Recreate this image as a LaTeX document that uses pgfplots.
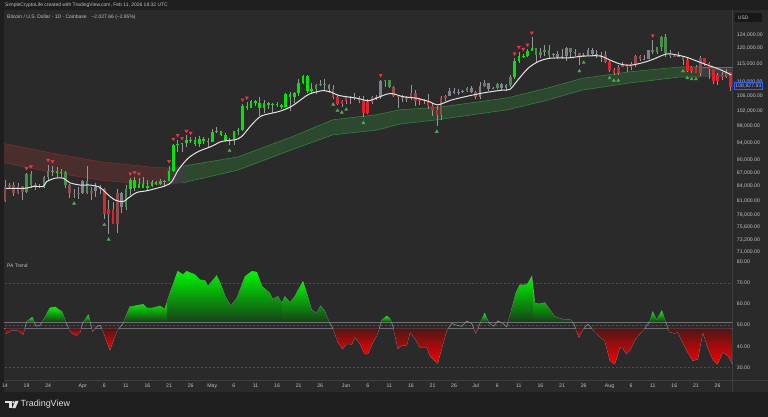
\documentclass[border=0pt]{standalone}
\usepackage{pgfplots}
\pgfplotsset{compat=1.18}
\usepackage{pgfplotstable}
\usepackage{fontspec}
\setmainfont{Liberation Sans}

\definecolor{bgpane}{RGB}{42,42,43}
\definecolor{bgdark}{RGB}{30,30,31}
\definecolor{txt}{RGB}{190,192,198}
\definecolor{gridc}{RGB}{62,62,64}
\definecolor{cG}{RGB}{0,230,0}
\definecolor{cg}{RGB}{74,142,76}
\definecolor{cR}{RGB}{226,32,42}
\definecolor{cr}{RGB}{146,74,74}
\definecolor{cn}{RGB}{128,128,142}
\definecolor{wick}{RGB}{150,150,152}
\definecolor{maline}{RGB}{228,228,228}
\definecolor{bandG}{RGB}{44,72,46}
\definecolor{bandGl}{RGB}{52,128,58}
\definecolor{bandR}{RGB}{74,46,46}
\definecolor{bandRl}{RGB}{130,42,44}
\definecolor{bandN}{RGB}{62,62,65}
\definecolor{triR}{RGB}{232,52,70}
\definecolor{triG}{RGB}{76,170,80}
\definecolor{oscG}{RGB}{0,245,0}
\definecolor{oscGd}{RGB}{22,64,24}
\definecolor{oscR}{RGB}{250,0,0}
\definecolor{oscRd}{RGB}{78,22,22}
\definecolor{oscline}{RGB}{140,140,140}
\definecolor{lvl}{RGB}{110,110,115}
\definecolor{dashc}{RGB}{78,78,82}
\definecolor{tvblue}{RGB}{41,98,255}
\definecolor{pricetxt}{RGB}{140,170,255}
\definecolor{usdbox}{RGB}{24,24,25}
\definecolor{logoc}{RGB}{222,222,224}

% Bitcoin daily candles, prices in thousands of USD (day 0 = Mar 14)
\pgfplotstableread{
i o h l c k
0 80.9 85.3 80.8 83.9 r
1 83.9 84.7 83.6 84.3 r
2 84.3 85.0 82.0 82.6 r
3 82.6 84.7 82.4 84.0 r
4 84.0 84.0 81.2 82.7 r
5 82.7 87.0 82.5 86.8 g
6 86.8 87.4 83.7 84.2 g
7 84.2 84.8 83.2 84.0 n
8 84.0 84.5 83.7 83.8 n
9 83.8 86.2 83.6 86.1 g
10 86.1 88.8 85.5 87.5 g
11 87.5 88.5 86.3 87.4 G
12 87.4 88.3 85.9 86.9 G
13 86.9 87.8 85.9 87.2 G
14 87.2 87.5 83.6 84.4 g
15 84.4 84.6 81.6 82.6 r
16 82.6 83.5 81.6 82.3 r
17 82.3 83.9 81.3 82.5 r
18 82.5 85.5 82.4 85.1 n
19 85.1 88.5 82.3 82.5 g
20 82.5 83.9 81.2 83.1 r
21 83.1 84.7 81.7 83.8 n
22 83.8 84.2 82.4 83.5 n
23 83.5 83.7 77.2 78.2 R
24 78.2 81.2 74.4 79.2 R
25 79.2 80.8 76.2 76.3 R
26 76.3 83.5 74.6 82.6 r
27 82.6 82.7 78.5 79.6 n
28 79.6 84.2 79.0 83.4 g
29 83.4 85.8 82.1 85.3 G
30 85.3 86.1 83.0 83.7 G
31 83.7 85.8 83.7 84.5 G
32 84.5 86.0 83.6 83.7 G
33 83.7 85.5 83.1 84.0 G
34 84.0 85.5 83.9 84.9 G
35 84.9 85.1 84.3 84.5 G
36 84.5 85.6 84.4 85.1 G
37 85.1 85.3 83.9 85.2 G
38 85.2 88.5 85.1 87.5 G
39 87.5 93.8 87.1 93.4 G
40 93.4 94.7 91.7 93.7 G
41 93.7 94.0 91.7 93.9 G
42 93.9 95.8 92.9 94.7 G
43 94.7 95.3 93.9 94.6 G
44 94.6 95.3 93.1 93.8 G
45 93.8 95.6 92.9 95.0 G
46 95.0 95.5 93.8 94.3 G
47 94.3 95.2 92.9 94.2 G
48 94.2 97.4 94.1 96.5 G
49 96.5 97.9 96.3 96.9 G
50 96.9 96.9 95.7 95.9 G
51 95.9 96.3 94.1 94.3 G
52 94.3 95.2 93.5 94.7 n
53 94.7 96.9 93.4 96.8 G
54 96.8 97.7 95.8 97.0 G
55 97.0 103.8 96.9 103.2 G
56 103.2 104.3 102.3 102.9 G
57 102.9 104.9 102.8 104.6 G
58 104.6 105.0 103.3 104.1 G
59 104.1 105.8 100.7 102.8 G
60 102.8 104.9 101.4 104.1 G
61 104.1 104.3 102.6 103.5 G
62 103.5 104.1 101.4 103.7 G
63 103.7 104.5 103.1 103.5 G
64 103.5 103.7 102.6 103.1 G
65 103.1 106.7 103.0 106.5 G
66 106.5 107.1 102.0 105.6 G
67 105.6 107.1 104.2 106.8 G
68 106.8 110.7 106.1 109.7 G
69 109.7 111.9 109.3 111.7 G
70 111.7 111.8 106.8 107.3 G
71 107.3 109.5 106.9 107.8 G
72 107.8 109.3 106.6 109.0 g
73 109.0 110.4 108.7 109.4 g
74 109.4 110.7 107.5 108.9 g
75 108.9 109.3 106.8 107.8 n
76 107.8 108.9 105.3 105.6 r
77 105.6 106.3 103.6 103.9 R
78 103.9 104.9 103.1 104.6 R
79 104.6 105.9 103.9 105.7 R
80 105.7 105.9 103.7 105.8 r
81 105.8 106.8 104.9 105.4 r
82 105.4 106.0 104.2 104.7 r
83 104.7 105.9 100.4 101.5 R
84 101.5 105.3 101.1 104.3 R
85 104.3 105.9 103.9 105.6 r
86 105.6 106.4 104.9 105.7 n
87 105.7 110.5 105.1 110.2 n
88 110.2 110.4 108.4 110.3 g
89 110.3 110.4 108.1 108.6 g
90 108.6 108.7 105.7 105.9 r
91 105.9 106.2 102.7 106.0 r
92 106.0 106.2 104.3 105.4 r
93 105.4 106.0 104.5 105.5 r
94 105.5 108.9 105.0 106.8 r
95 106.8 107.7 103.4 104.6 r
96 104.6 105.5 103.5 104.9 R
97 104.9 105.2 103.9 104.6 R
98 104.6 106.5 102.4 103.3 R
99 103.3 104.0 100.8 102.2 R
100 102.2 103.2 98.2 100.9 R
101 100.9 106.0 99.6 105.5 r
102 105.5 106.3 104.6 106.0 r
103 106.0 108.1 105.9 107.3 n
104 107.3 108.3 106.6 106.9 n
105 106.9 107.8 106.4 107.1 n
106 107.1 107.6 106.8 107.3 n
107 107.3 108.5 107.2 108.3 g
108 108.3 108.8 106.8 107.1 n
109 107.1 107.5 105.3 105.6 r
110 105.6 109.8 105.2 108.8 n
111 108.8 110.5 108.6 109.6 g
112 109.6 109.7 107.3 108.0 n
113 108.0 108.4 107.8 108.2 n
114 108.2 109.7 107.8 109.2 g
115 109.2 109.7 107.5 108.2 n
116 108.2 109.2 107.5 108.9 n
117 108.9 111.9 108.4 111.3 g
118 111.3 116.8 110.6 115.9 G
119 115.9 118.8 115.3 117.5 G
120 117.5 118.2 116.9 117.4 G
121 117.4 119.5 117.3 119.1 G
122 119.1 123.2 118.9 119.8 G
123 119.8 119.9 115.8 117.7 g
124 117.7 120.0 116.9 118.7 g
125 118.7 120.8 117.4 119.3 g
126 119.3 120.9 116.8 117.9 g
127 117.9 118.5 117.3 118.0 n
128 118.0 118.9 116.5 117.3 n
129 117.3 119.7 116.5 117.4 n
130 117.4 120.2 116.1 119.9 n
131 119.9 120.0 117.3 118.7 g
132 118.7 119.5 117.4 118.3 n
133 118.3 118.4 114.7 117.6 r
134 117.6 118.4 117.2 117.9 n
135 117.9 119.8 117.8 119.4 n
136 119.4 119.8 117.4 118.0 n
137 118.0 119.3 117.0 117.9 n
138 117.9 118.8 115.8 117.8 n
139 117.8 118.9 115.5 115.8 r
140 115.8 116.1 112.7 113.3 R
141 113.3 114.0 112.0 112.5 R
142 112.5 114.7 112.0 114.2 R
143 114.2 115.7 114.1 115.0 r
144 115.0 115.1 112.7 114.1 r
145 114.1 115.7 113.4 115.0 r
146 115.0 117.7 114.3 117.5 r
147 117.5 117.9 115.9 116.7 r
148 116.7 117.7 116.3 116.5 n
149 116.5 119.3 116.5 119.3 n
150 119.3 122.3 118.1 118.7 g
151 118.7 120.3 118.2 120.2 g
152 120.2 123.7 118.9 123.3 g
153 123.3 124.4 117.2 118.4 g
154 118.4 119.2 116.8 117.4 r
155 117.4 117.9 117.1 117.5 r
156 117.5 118.6 117.2 117.6 n
157 117.6 117.6 114.7 116.3 r
158 116.3 117.0 112.7 112.9 R
159 112.9 114.6 112.4 114.3 R
160 114.3 114.8 112.4 112.5 R
161 112.5 117.4 111.7 116.9 r
162 116.9 117.0 114.6 115.4 R
163 115.4 115.7 110.8 113.5 R
164 113.5 113.6 109.3 110.1 R
165 110.1 112.4 109.1 111.8 R
166 111.8 112.6 110.3 111.3 R
167 111.3 113.5 110.9 112.6 r
168 112.6 112.6 107.4 108.4 R
}\candles

\pgfplotsset{
  gfill/.style={draw=none, top color=oscG, bottom color=oscGd, forget plot},
  rfill/.style={draw=none, top color=oscRd, bottom color=oscR, forget plot},
}

\begin{document}
\begin{tikzpicture}[x=1bp,y=1bp]
\fill[bgdark] (0,0) rectangle (768,417);
\fill[bgpane] (4,25) rectangle (768,407);
\draw[gridc, line width=0.6bp] (4,37) -- (768,37);
\draw[gridc, line width=0.6bp] (733,25) -- (733,407);

% ---------------- price pane ----------------
\begin{axis}[
  at={(4bp,159bp)}, anchor=south west, scale only axis,
  width=729bp, height=247bp,
  xmin=-0.23, xmax=168.52,
  ymode=log, ymin=69.9, ymax=131.9,
  axis line style={draw=none}, major tick length=0pt,
  xtick=\empty,
  ytick={71,73.2,75.6,78,81,84,87,90,94,98,102,106,110,115,120,124},
  yticklabels={{71,000.00},{73,200.00},{75,600.00},{78,000.00},{81,000.00},{84,000.00},{87,000.00},{90,000.00},{94,000.00},{98,000.00},{102,000.00},{106,000.00},{110,000.00},{115,000.00},{120,000.00},{124,000.00}},
  yticklabel pos=right,
  yticklabel style={anchor=west, inner sep=0pt, xshift=4bp, font=\fontsize{5.2}{6}\selectfont, text=txt},
]
% red cloud
\addplot[fill=bandR, draw=none, forget plot] coordinates {(-0.3,93.8) (10.4,91.6) (22,89.5) (33.6,88.3) (37.5,88.1) (37.5,84.3) (28.9,84.8) (22,85.4) (10.4,87.2) (-0.3,89.3)};
\addplot[bandRl, line width=0.6bp, forget plot] coordinates {(-0.3,93.8) (10.4,91.6) (22,89.5) (33.6,88.3) (37.5,88.1)};
\addplot[bandRl, line width=0.6bp, forget plot] coordinates {(-0.3,89.3) (10.4,87.2) (22,85.4) (28.9,84.8) (37.5,84.3)};
% neutral transition
\addplot[fill=bandN, draw=none, forget plot] coordinates {(37.5,88.1) (41.2,88.5) (41.2,84.8) (37.5,84.3)};
% green cloud
\addplot[fill=bandG, draw=none, forget plot] coordinates {(41.2,88.5) (53.9,90.6) (66.4,95.4) (75.9,99.7) (86.1,101.0) (91.4,102.3) (100,102.9) (116.4,105.5) (125.7,108.2) (133.6,110.9) (144.7,112.8) (156.3,114.2) (160.9,114.2) (160.9,111.3) (156.3,111.3) (144.7,109.6) (133.6,107.6) (125.7,104.9) (116.4,102.3) (100,99.7) (91.4,98.6) (86.1,97.1) (75.9,95.9) (66.4,92.3) (53.9,87.6) (41.2,84.8)};
\addplot[bandGl, line width=0.6bp, forget plot] coordinates {(41.2,88.5) (53.9,90.6) (66.4,95.4) (75.9,99.7) (86.1,101.0) (91.4,102.3) (100,102.9) (116.4,105.5) (125.7,108.2) (133.6,110.9) (144.7,112.8) (156.3,114.2) (160.9,114.2)};
\addplot[bandGl, line width=0.6bp, forget plot] coordinates {(41.2,84.8) (53.9,87.6) (66.4,92.3) (75.9,95.9) (86.1,97.1) (91.4,98.6) (100,99.7) (116.4,102.3) (125.7,104.9) (133.6,107.6) (144.7,109.6) (156.3,111.3) (160.9,111.3)};
\addplot[fill=bandN, draw=none, forget plot] coordinates {(160.9,114.2) (168.6,114.2) (168.6,111.3) (160.9,111.3)};
\addplot[lvl, line width=0.5bp, forget plot] coordinates {(160.9,114.2) (168.6,114.2)};

% candles
\pgfplotsforeachungrouped \rr in {0,...,168}{%
  \pgfplotstablegetelem{\rr}{i}\of\candles \let\vi\pgfplotsretval
  \pgfplotstablegetelem{\rr}{o}\of\candles \let\vo\pgfplotsretval
  \pgfplotstablegetelem{\rr}{h}\of\candles \let\vh\pgfplotsretval
  \pgfplotstablegetelem{\rr}{l}\of\candles \let\vl\pgfplotsretval
  \pgfplotstablegetelem{\rr}{c}\of\candles \let\vc\pgfplotsretval
  \pgfplotstablegetelem{\rr}{k}\of\candles \let\vk\pgfplotsretval
  \edef\tmp{%
    \noexpand\addplot[wick, line width=0.6bp, forget plot] coordinates {(\vi,\vl) (\vi,\vh)};
    \noexpand\addplot[c\vk, line width=2.6bp, forget plot] coordinates {(\vi,\vo) (\vi,\vc)};
  }\tmp
}

% moving average
\addplot[maline, line width=1bp, smooth, tension=0.5, forget plot] coordinates {(0.2,83.6) (4.6,83.6) (6.6,84.0) (8.9,84.0) (9.6,85.0) (11.6,85.8) (13.5,85.8) (15,84.8) (17.4,84.3) (19.7,84.3) (22,83.8) (23.5,82.5) (25.5,81.1) (27.4,80.8) (28.5,81.5) (30.5,82.7) (33,83.1) (37,84.1) (38.6,85.0) (40.1,87.6) (42.4,90.3) (44.8,91.9) (47.8,93.1) (50.2,94.3) (53.2,94.7) (54.8,95.5) (57.1,98.4) (59.4,100.7) (63.3,101.8) (66.2,103.1) (69,105.4) (70.6,106.6) (73.7,107.5) (75.2,107.2) (77.5,106.1) (81.4,105.4) (84.1,104.7) (86,105.4) (88.4,106.5) (89.9,106.6) (92.2,105.8) (95.3,105.4) (98.4,104.4) (100.2,103.6) (103.4,104.9) (107.3,106.0) (111.1,106.9) (115,107.6) (116.9,107.8) (118.8,110.5) (121.1,113.8) (123.5,115.8) (126.2,116.8) (130.4,116.9) (133.6,117.4) (137.7,117.5) (140,116.3) (142.4,115.1) (144.7,114.7) (147.8,115.5) (150.1,116.5) (153.2,118.1) (155.5,117.8) (157.8,117.1) (160.1,116.0) (162.4,114.9) (165.5,113.5) (168.2,111.9)};

% signal triangles
\addplot[only marks, mark=triangle*, mark size=1.8bp, mark options={rotate=180, fill=triR, draw=triR}, forget plot] coordinates {(5,88.0) (6,88.4) (10,89.9) (11,89.6) (29,86.8) (30,87.1) (31,86.8) (38,89.6) (39,94.9) (40,95.8) (41,95.1) (42,96.9) (43,96.4) (55,105.0) (56,105.5) (87,111.8) (118,118.2) (119,120.2) (120,119.6) (121,120.9) (122,124.7) (150,123.8)};
\addplot[only marks, mark=triangle*, mark size=1.8bp, mark options={fill=triG, draw=triG}, forget plot] coordinates {(16,80.4) (23,76.1) (24,73.3) (52,92.1) (76,103.7) (77,102.1) (78,101.6) (79,102.4) (83,98.9) (100,96.7) (133,113.0) (134,115.5) (140,111.0) (141,110.3) (142,110.3) (157,113.0) (158,111.0) (159,110.7) (160,110.7)};
\end{axis}

% ---------------- oscillator pane ----------------
\begin{axis}[
  at={(4bp,37bp)}, anchor=south west, scale only axis,
  width=729bp, height=121bp,
  xmin=-0.23, xmax=168.52, ymin=24.2, ymax=81.27,
  axis line style={draw=none}, major tick length=0pt,
  xtick={0,5,10,18,23,28,33,38,43,48,53,58,63,68,73,79,84,89,94,99,104,109,114,119,124,129,134,140,145,150,155,160,165},
  xticklabels={14,19,24,Apr,6,11,16,21,26,May,6,11,16,21,26,Jun,6,11,16,21,26,Jul,6,11,16,21,26,Aug,6,11,16,21,26},
  xticklabel style={anchor=base, inner sep=0pt, yshift=-7.3bp, font=\fontsize{5.2}{6}\selectfont, text=txt},
  ytick={30,40,50,60,70,80},
  yticklabels={30.00,40.00,50.00,60.00,70.00,80.00},
  yticklabel pos=right,
  yticklabel style={anchor=west, inner sep=0pt, xshift=4bp, font=\fontsize{5.2}{6}\selectfont, text=txt},
]
\addplot[dashc, dash pattern=on 2bp off 2bp, line width=0.5bp, forget plot] coordinates {(-1,70) (170,70)};
\addplot[dashc, dash pattern=on 2bp off 2bp, line width=0.5bp, forget plot] coordinates {(-1,30) (170,30)};
\addplot[dashc, dash pattern=on 2bp off 2bp, line width=0.5bp, forget plot] coordinates {(-1,50) (170,50)};
\addplot[lvl, line width=0.6bp, forget plot] coordinates {(-1,51.5) (170,51.5)};
\addplot[lvl, line width=0.6bp, forget plot] coordinates {(-1,48.5) (170,48.5)};

\addplot[oscline, line width=0.6bp, forget plot] coordinates {(0.2,46.0) (1.5,47.6) (3,47.6) (4.2,45.7) (5,51.6) (6.3,53.7) (7.2,49.5) (8.1,50) (9.3,53.8) (10.4,58.1) (11.6,58.6) (13.2,56.3) (13.9,52.4) (14.7,48.6) (15.5,46.2) (16.6,45.2) (17.4,46.8) (18,51) (19.3,54.8) (20.3,47.1) (21.2,49.2) (22,50) (22.8,46.8) (24.3,38.4) (25.8,46.8) (27.4,51) (28.9,58.6) (30.4,59.2) (32,59.8) (32.8,58.1) (34,58) (35.9,59) (37,57.6) (38.2,65.1) (40,75.4) (41.2,73.8) (42.1,75.4) (44,73.8) (45.1,71.4) (46.3,71) (47,68.3) (49,73.3) (49.8,70) (51,63.5) (52.3,59) (53.7,62.7) (55.6,73) (57.2,75.4) (58.3,75) (59.5,68.3) (61.3,65.1) (62,62.2) (63.2,63.5) (64.1,60.3) (64.8,63.5) (66,60.6) (67.1,63.5) (69,70.6) (70.1,63.5) (71,57.1) (72.2,55.6) (73.1,59) (74,56.8) (75,51.6) (76,48.4) (77.1,42) (78.2,38.9) (79.1,41.3) (80.3,41) (81,44.4) (82.2,41.3) (83.3,36.5) (84,36.5) (85.2,42) (86.1,45.2) (87.3,52.4) (88.4,54.3) (89.1,53.2) (89.9,49.2) (91,38.9) (91.9,40.5) (93,40.5) (93.8,46.8) (94.9,43.7) (96.1,39.7) (97.7,39.7) (98.4,35.7) (99.5,33.3) (100.2,32.1) (101.2,39.7) (102.3,47.6) (103.5,50.8) (104.6,50) (105.8,49.5) (106.9,51.9) (108.1,50.8) (109,46.3) (110,50.8) (111.1,55.6) (112,51.1) (113.2,49.5) (114.1,52) (115.3,50.8) (116.2,49.2) (117.1,55.6) (118.3,65.1) (119.2,69) (120.6,69) (121.1,69.8) (122,73) (122.7,60.3) (123.8,60) (125,60.6) (126.2,57.1) (127.3,54) (128.5,53.2) (129.6,52.4) (130.8,52.8) (131.7,50.8) (132.9,44.4) (133.8,47.9) (135,50.5) (136.6,46.8) (138.2,43.7) (138.9,42.9) (140.1,33.3) (141.2,31.7) (142.4,39.7) (143.1,39) (143.9,36.5) (144.7,38.1) (145.8,42.9) (147,46) (148.1,48.4) (149.3,51.6) (150,56.3) (150.9,52.4) (152.1,56.8) (152.8,52.4) (153.9,46.8) (155.1,46.2) (155.8,46.8) (156.9,42) (158.1,37.3) (159.3,33.3) (160.4,34) (161.6,46.8) (162.7,39.7) (163.9,34) (165,31.7) (166.2,37.3) (167.4,35.7) (168.5,31.7)};

% gradient fills above the upper level (green) and below the lower level (red)
\addplot[rfill] coordinates {(0.2,48.5) (0.2,46) (1.5,47.6) (3,47.6) (4.2,45.7) (4.58,48.5)};
\addplot[gfill] coordinates {(4.99,51.5) (5,51.6) (6.3,53.7) (6.77,51.5)};
\addplot[gfill] coordinates {(8.57,51.5) (9.3,53.8) (10.4,58.1) (11.6,58.6) (13.2,56.3) (13.9,52.4) (14.09,51.5)};
\addplot[rfill] coordinates {(14.73,48.5) (15.5,46.2) (16.6,45.2) (17.4,46.8) (17.64,48.5)};
\addplot[gfill] coordinates {(18.17,51.5) (19.3,54.8) (19.73,51.5)};
\addplot[rfill] coordinates {(20.12,48.5) (20.3,47.1) (20.9,48.5)};
\addplot[rfill] coordinates {(22.38,48.5) (22.8,46.8) (24.3,38.4) (25.8,46.8) (26.45,48.5)};
\addplot[gfill] coordinates {(27.5,51.5) (28.9,58.6) (30.4,59.2) (32,59.8) (32.8,58.1) (34,58) (35.9,59) (37,57.6) (37.5,60.7) (37.5,51.5)};
\addplot[gfill] coordinates {(37.5,51.5) (37.5,60.7) (38.2,65.1) (40,75.4) (41.2,73.8) (42.1,75.4) (44,73.8) (45.1,71.4) (46.3,71) (47,68.3) (49,73.3) (49.8,70) (51,63.5) (52.3,59) (52.3,51.5)};
\addplot[gfill] coordinates {(52.3,51.5) (52.3,59) (53.7,62.7) (55.6,73) (57.2,75.4) (58.3,75) (59.5,68.3) (61.3,65.1) (62,62.2) (63.2,63.5) (64.1,60.3) (64.1,51.5)};
\addplot[gfill] coordinates {(64.1,51.5) (64.1,60.3) (64.8,63.5) (66,60.6) (67.1,63.5) (69,70.6) (70.1,63.5) (71,57.1) (72.2,55.6) (73.1,59) (74,56.8) (75,51.6) (75.03,51.5)};
\addplot[rfill] coordinates {(75.97,48.5) (76,48.4) (77.1,42) (78.2,38.9) (79.1,41.3) (80.3,41) (81,44.4) (82.2,41.3) (83.3,36.5) (84,36.5) (85.2,42) (86.1,45.2) (86.65,48.5)};
\addplot[gfill] coordinates {(87.15,51.5) (87.3,52.4) (88.4,54.3) (89.1,53.2) (89.44,51.5)};
\addplot[rfill] coordinates {(89.97,48.5) (91,38.9) (91.9,40.5) (93,40.5) (93.8,46.8) (94.9,43.7) (96.1,39.7) (97.7,39.7) (98.4,35.7) (99.5,33.3) (100.2,32.1) (101.2,39.7) (102.3,47.6) (102.64,48.5)};
\addplot[gfill] coordinates {(106.72,51.5) (106.9,51.9) (107.34,51.5)};
\addplot[rfill] coordinates {(108.56,48.5) (109,46.3) (109.49,48.5)};
\addplot[gfill] coordinates {(110.16,51.5) (111.1,55.6) (111.92,51.5)};
\addplot[gfill] coordinates {(113.92,51.5) (114.1,52) (114.6,51.5)};
\addplot[gfill] coordinates {(116.52,51.5) (117.1,55.6) (118.3,65.1) (119.2,69) (120.6,69) (121.1,69.8) (122,73) (122.35,66.65) (122.35,51.5)};
\addplot[gfill] coordinates {(122.35,51.5) (122.35,66.65) (122.7,60.3) (123.8,60) (125,60.6) (126.2,57.1) (127.3,54) (128.5,53.2) (129.6,52.4) (130.8,52.8) (131.39,51.5)};
\addplot[rfill] coordinates {(132.13,48.5) (132.9,44.4) (133.8,47.9) (134.08,48.5)};
\addplot[rfill] coordinates {(135.86,48.5) (136.6,46.8) (138.2,43.7) (138.9,42.9) (140.1,33.3) (141.2,31.7) (142.4,39.7) (143.1,39) (143.9,36.5) (144.7,38.1) (145.8,42.9) (147,46) (148.1,48.4) (148.14,48.5)};
\addplot[gfill] coordinates {(149.26,51.5) (149.3,51.6) (150,56.3) (150.9,52.4) (152.1,56.8) (152.8,52.4) (152.98,51.5)};
\addplot[rfill] coordinates {(153.57,48.5) (153.9,46.8) (155.1,46.2) (155.8,46.8) (156.9,42) (158.1,37.3) (159.3,33.3) (160.4,34) (161.6,46.8) (162.7,39.7) (163.9,34) (165,31.7) (166.2,37.3) (167.4,35.7) (168.5,31.7) (168.5,48.5)};
\end{axis}

% ---------------- texts and decorations ----------------
\node[anchor=west, inner sep=0pt, text=txt, font=\fontsize{5}{6}\selectfont] at (5,412) {SimpleCryptoLife created with TradingView.com, Feb 11, 2026 18:32 UTC};
\node[anchor=west, inner sep=0pt, text=txt, font=\fontsize{5}{6}\selectfont] at (7,400) {Bitcoin / U.S. Dollar · 1D · Coinbase\quad −2,027.66 (−2.95\%)};
\node[anchor=west, inner sep=0pt, text=txt, font=\fontsize{5}{6}\selectfont] at (7,151) {PA Trend};

\fill[usdbox] (735,395) rectangle (762,404);
\node[anchor=west, inner sep=0pt, text=txt, font=\fontsize{5}{6}\selectfont] at (738,399.5) {USD};

\node[anchor=west, draw=tvblue, line width=0.5bp, fill=bgpane, text=pricetxt, inner sep=1bp, font=\fontsize{5.2}{6}\selectfont] at (734.5,331.2) {108,827.93};

% TradingView logo
\fill[logoc] (5,16) rectangle (11.6,13.6);
\fill[logoc] (8.6,13.6) rectangle (11.6,8.8);
\fill[logoc] (13.4,14.6) circle (1.3);
\fill[logoc] (12.2,8.8) -- (15.3,16) -- (18.6,16) -- (15.5,8.8) -- cycle;
\node[anchor=west, inner sep=0pt, text=logoc, font=\fontsize{9}{10}\selectfont] at (20.5,12.4) {TradingView};
\end{tikzpicture}
\end{document}
